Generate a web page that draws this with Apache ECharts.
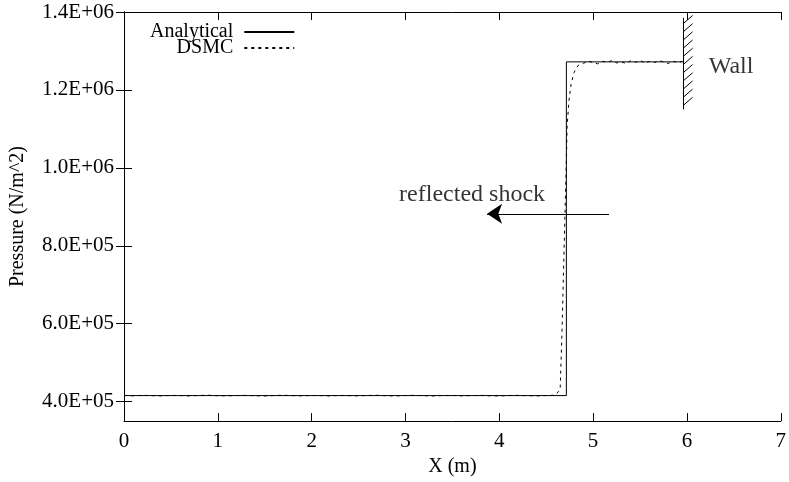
<!DOCTYPE html>
<html>
<head>
<meta charset="utf-8">
<title>Reflected shock pressure</title>
<script src="https://cdn.jsdelivr.net/npm/echarts@6/dist/echarts.min.js"></script>
<style>
  html, body { margin: 0; padding: 0; background: #fff; }
  #chart { width: 789px; height: 482px; }
</style>
</head>
<body>
<div id="chart"></div>
<script>
// analytical solution (step)
var analyticalX = [0, 4.715, 4.715, 5.96];
var analyticalP = [415500, 415500, 1272000, 1272000];

// DSMC result
var dsmcX = [0, 0.1, 0.2, 0.3, 0.4, 0.5, 0.6, 0.7, 0.8, 0.9,
	1.0, 1.1, 1.2, 1.3, 1.4, 1.5, 1.6, 1.7, 1.8, 1.9,
	2.0, 2.1, 2.2, 2.3, 2.4, 2.5, 2.6, 2.7, 2.8, 2.9,
	3.0, 3.1, 3.2, 3.3, 3.4, 3.5, 3.6, 3.7, 3.8, 3.9,
	4.0, 4.1, 4.2, 4.3, 4.4, 4.5, 4.6,
	4.649, 4.670, 4.691, 4.713, 4.723, 4.744, 4.765, 4.797, 4.840,
	4.90, 4.95, 5.00, 5.05, 5.10, 5.15, 5.20, 5.25, 5.30, 5.35, 5.40,
	5.45, 5.50, 5.55, 5.60, 5.65, 5.70, 5.75, 5.80, 5.85, 5.90, 5.95];
var dsmcP = [415800, 414900, 416200, 415300, 414700, 416000, 415500, 414600, 415900, 416300,
	415100, 414800, 415700, 416100, 415000, 414500, 415600, 416400, 415200, 414900,
	415800, 415400, 414600, 416000, 415300, 414800, 415900, 416200, 415000, 414700,
	415600, 416300, 415100, 414600, 415700, 415900, 414800, 415400, 416100, 415000,
	414500, 415800, 416000, 415200, 414700, 415600, 416500,
	431800, 592000, 795000, 998500, 1107800, 1176000, 1214500, 1245000, 1262800,
	1268500, 1274200, 1270100, 1266800, 1273500, 1271000, 1275300, 1269200, 1272400, 1267600, 1274800,
	1270500, 1276100, 1268900, 1273000, 1269800, 1275600, 1271700, 1267900, 1274000, 1270300, 1273600];

var pressureTicks = [400000, 600000, 800000, 1000000, 1200000, 1400000];

// annotations
var shockLabelAt = [3.71, 930000];
var shockArrow = [[5.17, 882000], [3.87, 882000]];
var wallX = 5.96;
var wallTop = 1385000, wallBottom = 1150000;
var wallHatchY = [1370000, 1349000, 1328000, 1307000, 1286000, 1265000, 1244000, 1223000, 1202000, 1181000, 1160000];
var hatchDx = 0.1, hatchDy = 21000;
var wallLabelAt = [6.47, 1260000];

function zip(xs, ys){
	var out = [];
	for (var i = 0; i < xs.length; i++) out.push([xs[i], ys[i]]);
	return out;
}

function sci(v){
	var s = v.toExponential(1).toUpperCase();
	return s.replace(/E([+-])(\d+)$/, function(m, sign, d){
		return 'E' + sign + (d.length < 2 ? '0' + d : d);
	});
}

var wallLines = [{coords: [[wallX, wallTop], [wallX, wallBottom]]}];
for (var i = 0; i < wallHatchY.length; i++) {
	wallLines.push({coords: [[wallX, wallHatchY[i]], [wallX + hatchDx, wallHatchY[i] + hatchDy]]});
}

var FONT = 'Liberation Serif';
var txt = {color: '#000', fontFamily: FONT, fontSize: 20};

var chart = echarts.init(document.getElementById('chart'));
chart.setOption({
	animation: false,
	backgroundColor: '#fff',
	grid: {left: 122, right: 6, top: 12, bottom: 58},
	legend: {
		data: ['Analytical', 'DSMC'],
		orient: 'vertical',
		align: 'right',
		left: 145,
		top: 17,
		itemWidth: 50,
		itemHeight: 16,
		itemGap: -4,
		itemStyle: {opacity: 0},
		textStyle: {color: '#000', fontFamily: FONT, fontSize: 20, lineHeight: 16, padding: [0, 6, 0, 0]}
	},
	xAxis: [{
		type: 'value', min: 0, max: 7, interval: 1,
		name: 'X (m)', nameLocation: 'middle', nameGap: 32,
		nameTextStyle: txt,
		axisLine: {lineStyle: {color: '#000', width: 1}},
		axisTick: {inside: true, length: 8, lineStyle: {color: '#000'}},
		axisLabel: {color: '#000', fontFamily: FONT, fontSize: 21, margin: 10},
		splitLine: {show: false}
	}, {
		type: 'value', position: 'top', min: 0, max: 7, interval: 1,
		axisLine: {show: true, lineStyle: {color: '#000', width: 1}},
		axisTick: {show: true, inside: true, length: 8, lineStyle: {color: '#000'}},
		axisLabel: {show: false},
		splitLine: {show: false}
	}],
	yAxis: [{
		type: 'value', min: 350000, max: 1400000,
		name: 'Pressure (N/m^2)', nameLocation: 'middle', nameGap: 96,
		nameTextStyle: txt,
		axisLine: {show: true, lineStyle: {color: '#000', width: 1}},
		axisTick: {show: true, inside: true, length: 8, customValues: pressureTicks, lineStyle: {color: '#000'}},
		axisLabel: {color: '#000', fontFamily: FONT, fontSize: 21, margin: 10, customValues: pressureTicks, formatter: sci},
		splitLine: {show: false}
	}, {
		type: 'value', position: 'right', min: 350000, max: 1400000,
		axisLine: {show: true, lineStyle: {color: '#000', width: 1}},
		axisTick: {show: true, inside: true, length: 8, customValues: pressureTicks, lineStyle: {color: '#000'}},
		axisLabel: {show: false},
		splitLine: {show: false}
	}],
	series: [{
		name: 'Analytical',
		type: 'line',
		data: zip(analyticalX, analyticalP),
		symbol: 'none',
		color: '#000',
		lineStyle: {color: '#000', width: 1},
		z: 3
	}, {
		name: 'DSMC',
		type: 'line',
		data: zip(dsmcX, dsmcP),
		symbol: 'none',
		color: '#000',
		lineStyle: {color: '#000', width: 1, type: [3, 4]},
		z: 2
	}, {
		name: 'arrow',
		type: 'lines',
		coordinateSystem: 'cartesian2d',
		data: [{coords: shockArrow}],
		symbol: ['none', 'arrow'],
		symbolSize: [9, 15],
		lineStyle: {color: '#000', width: 1, opacity: 1},
		silent: true
	}, {
		name: 'wall',
		type: 'lines',
		coordinateSystem: 'cartesian2d',
		data: wallLines,
		symbol: 'none',
		lineStyle: {color: '#000', width: 1, opacity: 1},
		silent: true
	}, {
		name: 'labels',
		type: 'scatter',
		symbolSize: 0,
		silent: true,
		data: [
			{value: shockLabelAt, label: {formatter: 'reflected shock'}},
			{value: wallLabelAt, label: {formatter: 'Wall'}}
		],
		label: {show: true, position: 'inside', color: '#000', fontFamily: FONT, fontSize: 24}
	}]
});
</script>
</body>
</html>
